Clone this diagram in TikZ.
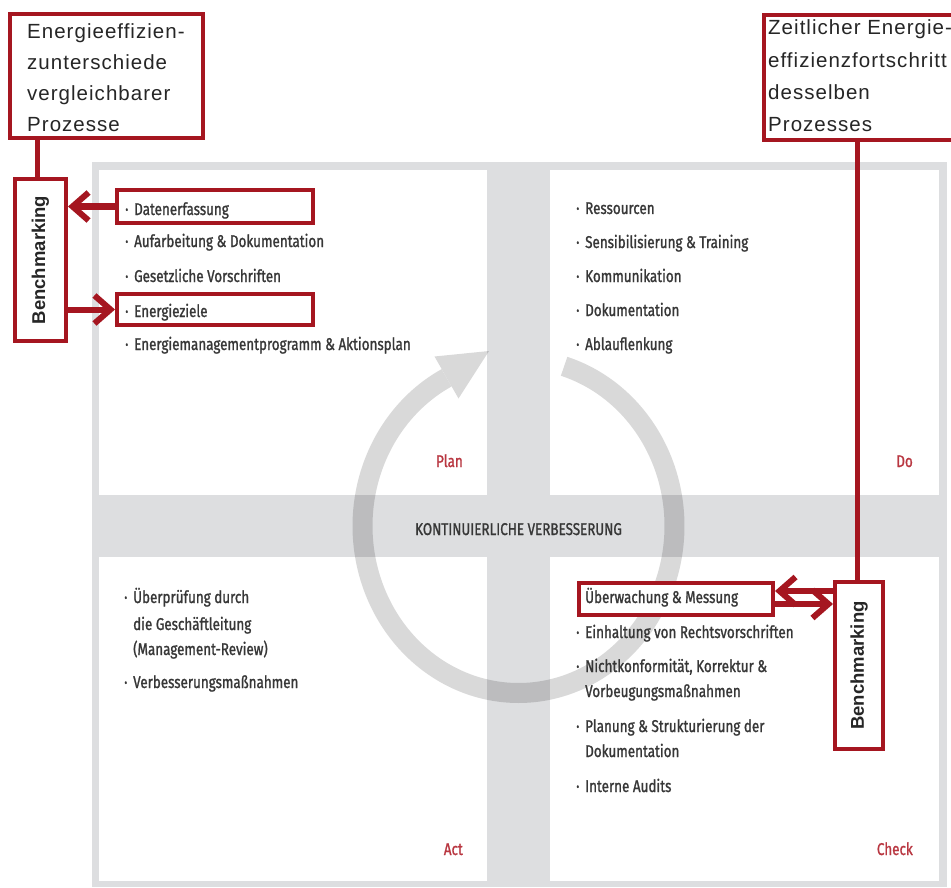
\documentclass[tikz,border=0pt]{standalone}
\usepackage{fontspec}
\setmainfont{Liberation Sans}
\newfontfamily\cond[FakeStretch=0.79, FakeBold=1.2]{Fira Sans}
\newfontfamily\boxfont[LetterSpace=5]{Liberation Sans}
\usetikzlibrary{arrows.meta}
\definecolor{redc}{RGB}{165,22,32}
\definecolor{bandc}{RGB}{221,222,224}
\definecolor{txtc}{RGB}{55,55,55}
\definecolor{lblc}{RGB}{185,55,65}
\newcommand\bl{\makebox[9pt][l]{·}}
\begin{document}
\begin{tikzpicture}[x=1pt,y=-1pt,
  item/.style={anchor=base west, inner sep=0pt, font=\cond\fontsize{17}{18}\selectfont, text=txtc},
  qlabel/.style={anchor=base east, inner sep=0pt, font=\cond\fontsize{17}{18}\selectfont, text=lblc},
  redbox/.style={draw=redc, line width=4pt, inner sep=0pt},
  wredbox/.style={redbox, fill=white},
  boxtext/.style={anchor=base west, inner sep=0pt, font=\boxfont\fontsize{20.5}{22}\selectfont, text=black!85},
  benchtext/.style={rotate=90, inner sep=0pt, font=\bfseries\fontsize{18.5}{20}\selectfont, text=black!85},
  conn/.style={draw=redc, line width=5pt},
  arr/.style={draw=redc, line width=6pt, -{Straight Barb[length=16pt,width=28pt]}},
  ring/.style={draw=black, draw opacity=0.15, line width=20pt},
  ringhead/.style={fill=black, fill opacity=0.15}
]
\useasboundingbox (0,0) rectangle (951,888);
\fill[white] (0,0) rectangle (951,888);
% frame and bands
\fill[bandc] (92,162) rectangle (947,887);
\fill[white] (99,170) rectangle (487,495);
\fill[white] (550,170) rectangle (939,495);
\fill[white] (99,557) rectangle (487,881);
\fill[white] (550,557) rectangle (939,881);
% cycle ring
\draw[ring]
  plot[domain=73:-242.5, samples=150, smooth] ({518.5+156*cos(\x)}, {526-167*sin(\x)});
\fill[ringhead] (434.5,356.5) -- (489,351) -- (458.5,398.5) -- cycle;
% Plan
\node[item] (p1) at (125,215) {\bl Datenerfassung};
\node[item] (p2) at (125,247) {\bl Aufarbeitung \& Dokumentation};
\node[item] (p3) at (125,282) {\bl Gesetzliche Vorschriften};
\node[item] (p4) at (125,317) {\bl Energieziele};
\node[item] (p5) at (125,350) {\bl Energiemanagementprogramm \& Aktionsplan};
\node[qlabel] (plan) at (463,467) {Plan};
% Do
\node[item] (d1) at (576,214) {\bl Ressourcen};
\node[item] (d2) at (576,248) {\bl Sensibilisierung \& Training};
\node[item] (d3) at (576,282) {\bl Kommunikation};
\node[item] (d4) at (576,316) {\bl Dokumentation};
\node[item] (d5) at (576,350) {\bl Ablauflenkung};
\node[qlabel] (do) at (913,467) {Do};
% middle
\node[anchor=base, inner sep=0pt, font=\cond\fontsize{17}{18}\selectfont, text=txtc] (kv) at (518.5,535) {KONTINUIERLICHE VERBESSERUNG};
% Act
\node[item] (a1) at (124,603) {\bl Überprüfung durch};
\node[item] (a1b) at (133,630) {die Geschäftleitung};
\node[item] (a1c) at (133,655) {(Management-Review)};
\node[item] (a2) at (124,688) {\bl Verbesserungsmaßnahmen};
\node[qlabel] (act) at (463,855) {Act};
% Check
\node[wredbox, minimum width=194pt, minimum height=32pt] (ubox) at (676,599) {};
\node[item] (c1) at (585,603) {Überwachung \& Messung};
\node[item] (c2) at (576,638) {\bl Einhaltung von Rechtsvorschriften};
\node[item] (c3) at (576,672) {\bl Nichtkonformität, Korrektur \&};
\node[item] (c3b) at (585,697) {Vorbeugungsmaßnahmen};
\node[item] (c4) at (576,732) {\bl Planung \& Strukturierung der};
\node[item] (c4b) at (585,757) {Dokumentation};
\node[item] (c5) at (576,792) {\bl Interne Audits};
\node[qlabel] (check) at (913,855) {Check};
% red highlight boxes (Plan)
\node[redbox, minimum width=196pt, minimum height=33pt] (datbox) at (215,206.5) {};
\node[redbox, minimum width=196pt, minimum height=31pt] (ezbox) at (215,309.5) {};
% top boxes
\node[wredbox, minimum width=193pt, minimum height=124pt] (ltop) at (106.5,76) {};
\node[boxtext] (lt1) at (27,39) {Energieeffizien-};
\node[boxtext] (lt2) at (27,70) {zunterschiede};
\node[boxtext] (lt3) at (27,101) {vergleichbarer};
\node[boxtext] (lt4) at (27,132) {Prozesse};
\node[wredbox, minimum width=200pt, minimum height=125pt] (rtop) at (864,77.5) {};
\node[boxtext] (rt1) at (768,35) {Zeitlicher Energie-};
\node[boxtext] (rt2) at (768,68) {effizienzfortschritt};
\node[boxtext] (rt3) at (768,100) {desselben};
\node[boxtext] (rt4) at (768,132) {Prozesses};
% benchmarking boxes
\node[wredbox, minimum width=51pt, minimum height=162pt] (lbench) at (40.5,260) {};
\node[benchtext] (lbt) at (lbench.center) {Benchmarking};
\node[wredbox, minimum width=48pt, minimum height=167pt] (rbench) at (859,665.5) {};
\node[benchtext] (rbt) at (rbench.center) {Benchmarking};
% connectors
\draw[conn] ([xshift=-3.5pt]lbench.north) -- ([xshift=-3.5pt]lbench.north |- ltop.south);
\draw[conn] ([xshift=-2pt]rbench.north) -- ([xshift=-2pt]rbench.north |- rtop.south);
\draw[arr] (datbox.west) -- (lbench.east |- datbox.west);
\draw[arr] (lbench.east |- ezbox.west) -- (ezbox.west);
\draw[arr] ([yshift=8pt]rbench.west |- ubox.east) -- ([yshift=8pt]ubox.east);
\draw[arr] ([yshift=-5pt]ubox.east) -- ([yshift=-5pt]rbench.west |- ubox.east);
\end{tikzpicture}
\end{document}
